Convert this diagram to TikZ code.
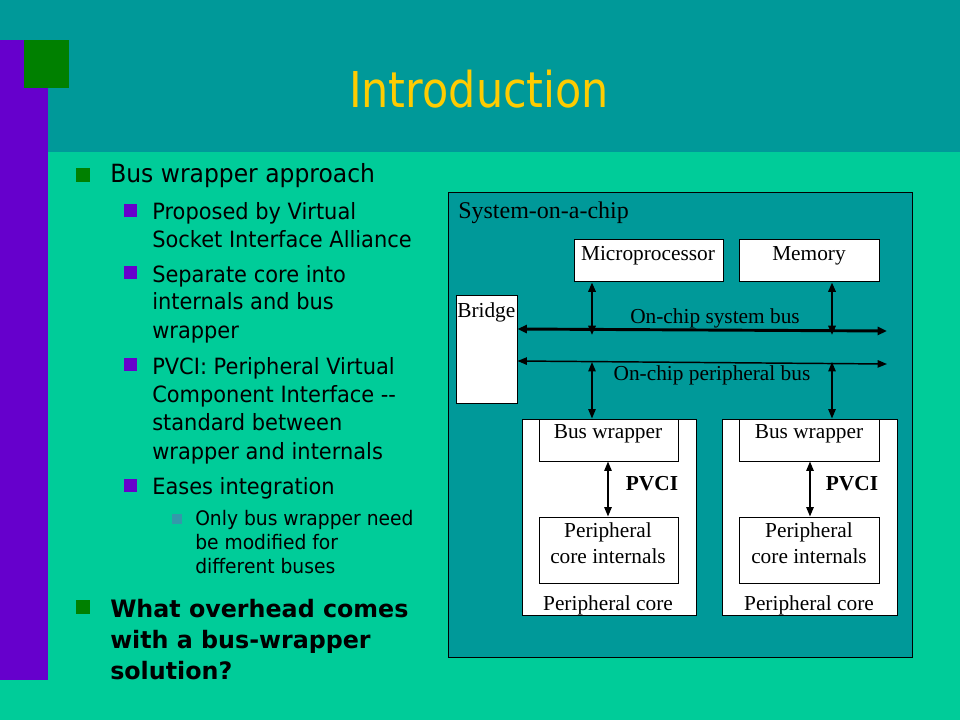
\documentclass[tikz,border=0pt]{standalone}
\usepackage{fontspec}
\setmainfont{Liberation Serif}
\newfontfamily\tah{DejaVu Sans}[FakeStretch=0.935]
\newfontfamily\tahbold{DejaVu Sans Bold}[FakeStretch=0.99]
\newfontfamily\tahtitle{DejaVu Sans}[FakeStretch=0.87]
\usetikzlibrary{arrows.meta,fit}
\definecolor{lightgr}{RGB}{0,204,153}
\definecolor{tealc}{RGB}{0,153,153}
\definecolor{purp}{RGB}{102,0,204}
\definecolor{gsq}{RGB}{0,128,0}
\definecolor{yel}{RGB}{255,204,0}
\definecolor{bul3}{RGB}{51,153,170}
\tikzset{
  lone/.style={anchor=base west, inner sep=0pt, font=\tah\fontsize{18.8pt}{22pt}\selectfont},
  lonebf/.style={anchor=base west, inner sep=0pt, font=\tahbold\fontsize{18pt}{22pt}\selectfont},
  ltwo/.style={anchor=base west, inner sep=0pt, font=\tah\fontsize{16.8pt}{20pt}\selectfont},
  lthree/.style={anchor=base west, inner sep=0pt, font=\tah\fontsize{15pt}{18pt}\selectfont},
  dtext/.style={anchor=base, inner sep=0pt, font=\fontsize{16pt}{18pt}\selectfont},
  box/.style={draw=black, fill=white, line width=0.75pt, inner sep=0pt},
  sysbus/.style={line width=2.2pt, {Triangle[length=7pt,width=6pt]}-{Triangle[length=7pt,width=6pt]}},
  vthick/.style={line width=1.6pt, {Triangle[length=7pt,width=5.5pt]}-{Triangle[length=7pt,width=5.5pt]}},
  vthin/.style={line width=1.1pt, {Triangle[length=7pt,width=5.5pt]}-{Triangle[length=7pt,width=5.5pt]}},
}
\begin{document}
\begin{tikzpicture}[x=0.75pt,y=-0.75pt]
\useasboundingbox (0,0) rectangle (960,720);
% background
\fill[lightgr] (0,0) rectangle (960,720);
\fill[tealc] (0,0) rectangle (960,152);
\fill[purp] (0,40) rectangle (48,680);
\fill[gsq] (24,40) rectangle (69,88);
% title
\node[anchor=base, inner sep=0pt, text=yel, font=\tahtitle\fontsize{37pt}{40pt}\selectfont] (title) at (479,108) {Introduction};
% bullets
\fill[gsq] (76,168) rectangle (90,182);
\fill[purp] (124,204) rectangle (137,217);
\fill[purp] (124,266) rectangle (137,279);
\fill[purp] (124,358) rectangle (137,371);
\fill[purp] (124,479) rectangle (137,492);
\fill[bul3] (172,514) rectangle (182,524);
\fill[gsq] (76,600) rectangle (90,614);
% bullet text
\node[lone] (a1) at (110,183) {Bus wrapper approach};
\node[ltwo] (b1) at (152,220) {Proposed by Virtual};
\node[ltwo] (b2) at (152,248) {Socket Interface Alliance};
\node[ltwo] (b3) at (152,282) {Separate core into};
\node[ltwo] (b4) at (152,310) {internals and bus};
\node[ltwo] (b5) at (152,339) {wrapper};
\node[ltwo] (b6) at (152,374) {PVCI: Peripheral Virtual};
\node[ltwo] (b7) at (152,402) {Component Interface --};
\node[ltwo] (b8) at (152,430) {standard between};
\node[ltwo] (b9) at (152,459) {wrapper and internals};
\node[ltwo] (b10) at (152,494) {Eases integration};
\node[lthree] (c1) at (195,525) {Only bus wrapper need};
\node[lthree] (c2) at (195,549) {be modified for};
\node[lthree] (c3) at (195,573) {different buses};
\node[lonebf] (d1) at (110,617) {What overhead comes};
\node[lonebf] (d2) at (110,648) {with a bus-wrapper};
\node[lonebf] (d3) at (110,679) {solution?};
% diagram frame
\node[draw=black, fill=tealc, line width=0.75pt, inner sep=0pt, fit={(448,193) (912,657)}] (soc) {};
\node[anchor=base west, inner sep=0pt, font=\fontsize{18pt}{20pt}\selectfont] (soct) at (458,219) {System-on-a-chip};
% boxes
\node[box, fit={(574,240) (723,282)}] (mp) {};
\node[dtext] (mpt) at (648,261) {Microprocessor};
\node[box, fit={(739,240) (879,282)}] (mem) {};
\node[dtext] (memt) at (809,261) {Memory};
\node[box, fit={(456,296) (517,403)}] (br) {};
\node[dtext, anchor=base west] (brt) at (457,317) {Bridge};
% peripheral core 1
\node[box, fit={(522,419) (696,615)}] (pc1) {};
\node[box, fit={(539,419) (678,461)}] (bw1) {};
\node[box, fit={(539,517) (678,583)}] (in1) {};
\node[dtext] (bw1t) at (608,438) {Bus wrapper};
\node[dtext] (in1a) at (608,537) {Peripheral};
\node[dtext] (in1b) at (608,563) {core internals};
\node[dtext] (pc1t) at (608,610) {Peripheral core};
\node[dtext, font=\bfseries\fontsize{16pt}{18pt}\selectfont] (pv1) at (652,490) {PVCI};
% peripheral core 2
\node[box, fit={(722,419) (897,615)}] (pc2) {};
\node[box, fit={(739,419) (879,461)}] (bw2) {};
\node[box, fit={(739,517) (879,583)}] (in2) {};
\node[dtext] (bw2t) at (809,438) {Bus wrapper};
\node[dtext] (in2a) at (809,537) {Peripheral};
\node[dtext] (in2b) at (809,563) {core internals};
\node[dtext] (pc2t) at (809,610) {Peripheral core};
\node[dtext, font=\bfseries\fontsize{16pt}{18pt}\selectfont] (pv2) at (852,490) {PVCI};
% buses
\coordinate (sbL) at (517,329);
\coordinate (sbR) at (887,331);
\coordinate (pbL) at (517,361);
\coordinate (pbR) at (887,364);
\draw[sysbus] (sbL -| br.east) -- (sbR);
\draw[vthin] (pbL -| br.east) -- (pbR);
\node[dtext] (sbt) at (715,324) {On-chip system bus};
\node[dtext] (pbt) at (712,380) {On-chip peripheral bus};
% vertical connectors
\coordinate (s1) at (592,335);
\coordinate (s2) at (832,335);
\coordinate (p1) at (592,362);
\coordinate (p2) at (832,362);
\draw[vthick] (mp.south -| s1) -- (s1);
\draw[vthick] (mem.south -| s2) -- (s2);
\draw[vthin] (p1) -- (p1 |- bw1.north);
\draw[vthin] (p2) -- (p2 |- bw2.north);
\coordinate (q1) at (608,0);
\coordinate (q2) at (810,0);
\draw[vthin] (bw1.south -| q1) -- (in1.north -| q1);
\draw[vthin] (bw2.south -| q2) -- (in2.north -| q2);
\end{tikzpicture}
\end{document}
